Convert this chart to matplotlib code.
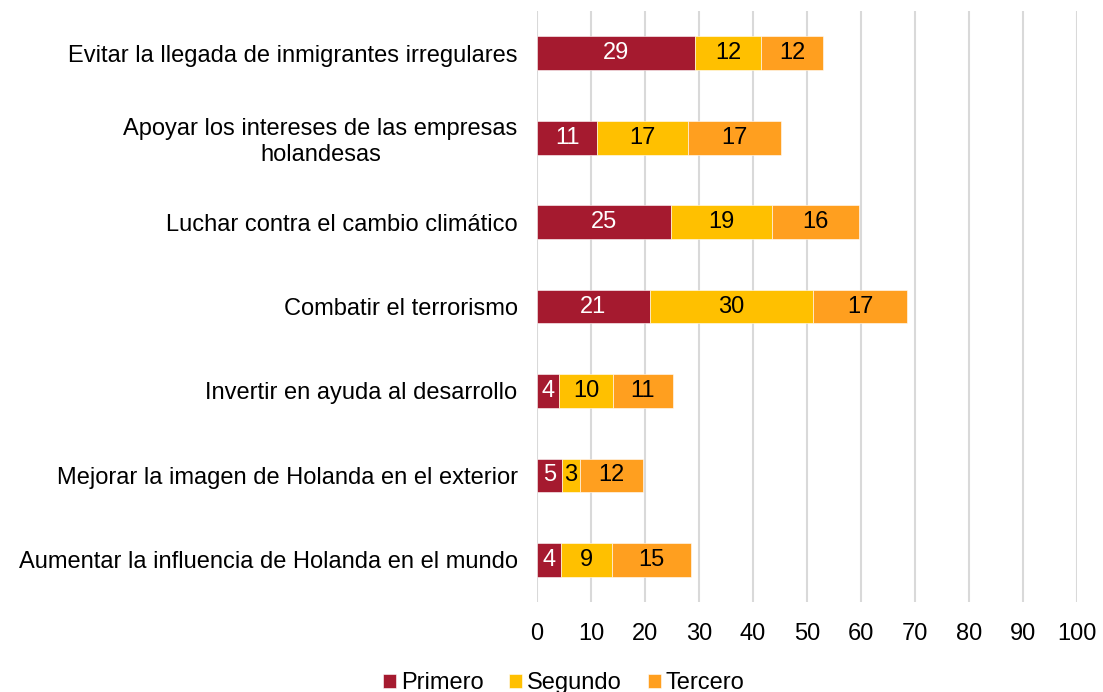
import numpy as np
import matplotlib
matplotlib.use('Agg')
from matplotlib import pyplot as plt

plt.rcParams['font.family'] = ['Liberation Sans', 'DejaVu Sans']

# datos (de arriba hacia abajo)
categorias = [
    'Evitar la llegada de inmigrantes irregulares',
    'Apoyar los intereses de las empresas\nholandesas',
    'Luchar contra el cambio climático',
    'Combatir el terrorismo',
    'Invertir en ayuda al desarrollo',
    'Mejorar la imagen de Holanda en el exterior',
    'Aumentar la influencia de Holanda en el mundo',
]
primero = [29.3, 11.1, 24.8, 20.9, 4.1, 4.6, 4.4]
segundo = [12.1, 16.8, 18.8, 30.3, 9.9, 3.3, 9.4]
tercero = [11.6, 17.2, 16.0, 17.4, 11.1, 11.7, 14.8]
series = ['Primero', 'Segundo', 'Tercero']
colores = ['#A51A2F', '#FFC000', '#FF9F1F']
colores_texto = ['white', 'black', 'black']
ticks_x = list(range(0, 101, 10))

fig = plt.figure(figsize=(11.03, 6.92), dpi=100)
ax = fig.add_axes([0.4869, 0.130, 0.4895, 0.854])

y = np.arange(len(categorias))
izq = np.zeros(len(categorias))
for vals, nombre, col, col_t in zip([primero, segundo, tercero], series, colores, colores_texto):
    vals = np.array(vals)
    ax.barh(y, vals, left=izq, height=0.4, color=col, label=nombre,
            edgecolor='white', linewidth=0.4, zorder=3)
    for xi, yi, v in zip(izq, y, vals):
        ax.text(xi + v / 2, yi, f'{v:.0f}', ha='center', va='center',
                color=col_t, fontsize=17, zorder=4)
    izq = izq + vals

ax.set_xlim(0, 100)
ax.set_ylim(len(categorias) - 0.5, -0.5)
ax.set_xticks(ticks_x)
ax.set_xticklabels([str(t) for t in ticks_x], fontsize=17)
ax.set_yticks(y)
ax.set_yticklabels(categorias, fontsize=17, multialignment='center')
ax.tick_params(axis='both', length=0)
ax.tick_params(axis='x', pad=15)
ax.tick_params(axis='y', pad=14)
ax.grid(axis='x', color='#D9D9D9', linewidth=1.5, zorder=0)
for s in ax.spines.values():
    s.set_visible(False)

fig.legend(loc='center', bbox_to_anchor=(0.511, 0.013), ncol=3, frameon=False,
           fontsize=17, handlelength=0.55, handleheight=0.55, handletextpad=0.2,
           columnspacing=1.1)

plt.savefig('out.png', dpi=100)
